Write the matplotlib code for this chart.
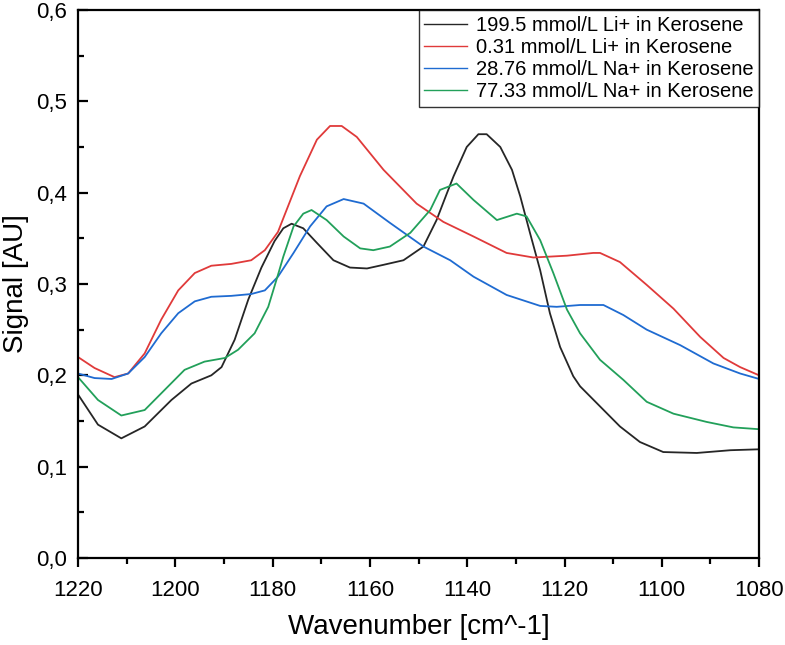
import matplotlib
matplotlib.use("Agg")
import matplotlib.pyplot as plt
from matplotlib.ticker import MultipleLocator, FuncFormatter

plt.rcParams['font.family'] = ['Liberation Sans', 'DejaVu Sans']

labels = ["199.5 mmol/L Li+ in Kerosene", "0.31 mmol/L Li+ in Kerosene",
          "28.76 mmol/L Na+ in Kerosene", "77.33 mmol/L Na+ in Kerosene"]
colors = ["#262626", "#e03a3a", "#1f6bd1", "#22a05a"]

x_black = [1220, 1215.9, 1211.1, 1206.3, 1200.8, 1196.7, 1192.6, 1190.5, 1187.8, 1185,
           1182.3, 1179.6, 1177.8, 1176.1, 1173.7, 1170.9, 1167.5, 1164.1, 1160.6, 1157.2,
           1153.1, 1149, 1146.3, 1144.2, 1142.8, 1140.1, 1137.7, 1136, 1133.2, 1130.8,
           1129.1, 1127.1, 1125, 1123, 1120.9, 1118.2, 1116.8, 1112.7, 1108.6, 1104.5,
           1099.7, 1092.8, 1085.9, 1080]
y_black = [0.179, 0.146, 0.131, 0.144, 0.173, 0.191, 0.200, 0.209, 0.239, 0.283,
           0.318, 0.347, 0.361, 0.366, 0.361, 0.345, 0.326, 0.318, 0.317, 0.321,
           0.326, 0.341, 0.370, 0.399, 0.418, 0.450, 0.464, 0.464, 0.450, 0.425,
           0.396, 0.356, 0.315, 0.268, 0.231, 0.199, 0.188, 0.166, 0.144, 0.127,
           0.116, 0.115, 0.118, 0.119]

x_red = [1220, 1216.6, 1212.5, 1209.7, 1206.3, 1202.9, 1199.4, 1196, 1192.6, 1188.5,
         1184.4, 1181.6, 1178.9, 1177.8, 1174.4, 1170.9, 1168.2, 1165.8, 1162.7, 1157.2,
         1150.4, 1144.9, 1138.7, 1131.9, 1126.4, 1119.5, 1114.1, 1112.7, 1108.6, 1103.1,
         1097.6, 1092.1, 1087.3, 1083.9, 1080]
y_red = [0.220, 0.208, 0.198, 0.202, 0.224, 0.261, 0.293, 0.312, 0.320, 0.322,
         0.326, 0.337, 0.357, 0.372, 0.418, 0.458, 0.473, 0.473, 0.461, 0.425,
         0.388, 0.368, 0.352, 0.334, 0.329, 0.331, 0.334, 0.334, 0.324, 0.299,
         0.273, 0.242, 0.219, 0.209, 0.200]

x_blue = [1220, 1216.6, 1213.1, 1209.7, 1206.3, 1202.9, 1199.4, 1196, 1192.6, 1188.5,
          1184.4, 1181.6, 1178.9, 1175.7, 1172.3, 1168.9, 1165.4, 1161.3, 1155.9, 1149,
          1143.5, 1138.7, 1131.9, 1125, 1121.6, 1116.8, 1112, 1107.9, 1103.1, 1096.2,
          1089.4, 1083.9, 1080]
y_blue = [0.202, 0.197, 0.196, 0.202, 0.220, 0.246, 0.268, 0.281, 0.286, 0.287,
          0.289, 0.293, 0.308, 0.334, 0.363, 0.385, 0.393, 0.388, 0.367, 0.341,
          0.326, 0.308, 0.288, 0.276, 0.275, 0.277, 0.277, 0.266, 0.250, 0.233,
          0.213, 0.202, 0.196]

x_green = [1220, 1215.9, 1211.1, 1206.3, 1202.2, 1198.1, 1194, 1189.8, 1187.1, 1183.7,
           1180.9, 1178.9, 1177.8, 1175.7, 1173.7, 1172, 1168.9, 1165.4, 1162, 1159.3,
           1155.9, 1151.7, 1147.6, 1145.6, 1142.2, 1138.7, 1133.9, 1129.8, 1127.8, 1125,
           1122.3, 1119.5, 1116.8, 1112.7, 1107.9, 1103.1, 1097.6, 1090.8, 1085.3, 1080]
y_green = [0.198, 0.173, 0.156, 0.162, 0.184, 0.206, 0.215, 0.219, 0.228, 0.246,
           0.275, 0.310, 0.330, 0.363, 0.377, 0.381, 0.370, 0.352, 0.339, 0.337,
           0.341, 0.356, 0.381, 0.403, 0.410, 0.392, 0.370, 0.377, 0.374, 0.348,
           0.312, 0.272, 0.246, 0.217, 0.195, 0.171, 0.158, 0.149, 0.143, 0.141]

series = [(x_black, y_black), (x_red, y_red), (x_blue, y_blue), (x_green, y_green)]

fig = plt.figure(figsize=(7.85, 6.45), dpi=100)
ax = fig.add_axes([0.0994, 0.1349, 0.8676, 0.8496])

for (xs, ys), lab, c in zip(series, labels, colors):
    ax.plot(xs, ys, color=c, lw=1.3, label=lab)

ax.set_xlim(1220, 1080)
ax.set_ylim(0, 0.6)
ax.xaxis.set_major_locator(MultipleLocator(20))
ax.xaxis.set_minor_locator(MultipleLocator(10))
ax.yaxis.set_major_locator(MultipleLocator(0.1))
ax.yaxis.set_minor_locator(MultipleLocator(0.05))
ax.yaxis.set_major_formatter(FuncFormatter(lambda v, p: f"{v:.1f}".replace('.', ',')))
ax.xaxis.set_major_formatter(FuncFormatter(lambda v, p: f"{v:.0f}"))

for sp in ax.spines.values():
    sp.set_linewidth(1.6)

ax.tick_params(axis='x', which='major', direction='out', length=6.5, width=1.6,
               labelsize=16, pad=9, top=False)
ax.tick_params(axis='x', which='minor', direction='out', length=4, width=1.6, top=False)
ax.tick_params(axis='y', which='major', direction='in', length=7, width=1.6,
               labelsize=16, pad=8, right=False)
ax.tick_params(axis='y', which='minor', direction='in', length=4, width=1.6, right=False)

ax.set_xlabel("Wavenumber [cm^-1]", fontsize=20, labelpad=10)
ax.set_ylabel("Signal [AU]", fontsize=20, labelpad=5)

leg = ax.legend(loc='upper right', fontsize=14.5, frameon=True, fancybox=False,
                edgecolor='black', borderaxespad=0, labelspacing=0.16,
                handlelength=2.1, handletextpad=0.45, borderpad=0.28)
leg.get_frame().set_linewidth(1.0)
for l in leg.get_lines():
    l.set_linewidth(1.0)

fig.savefig("out.png", dpi=100)
